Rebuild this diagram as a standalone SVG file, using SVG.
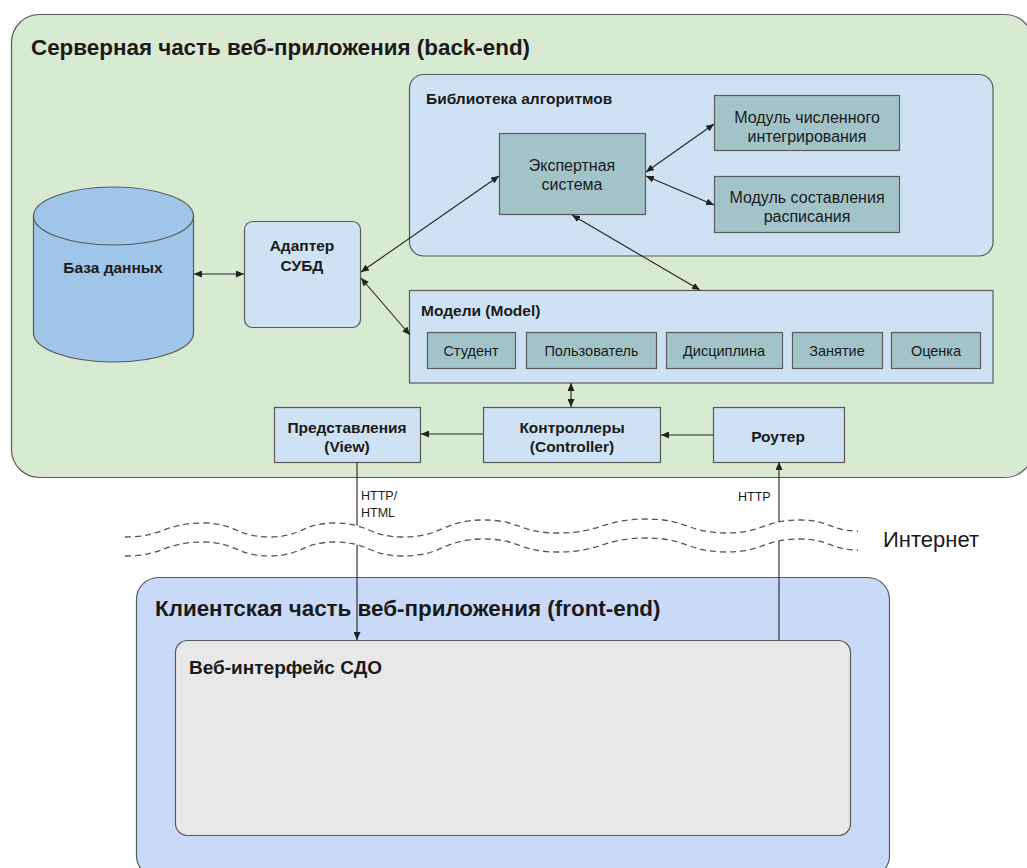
<svg xmlns="http://www.w3.org/2000/svg" width="1027" height="868" viewBox="0 0 1027 868">
  <style>
    text { font-family: "Liberation Sans", Arial, sans-serif; fill: #1a1a1a; }
    .title { font-size: 22.4px; font-weight: bold; }
    .lbl { font-size: 15.5px; font-weight: bold; }
    .lblc { font-size: 15.5px; font-weight: bold; text-anchor: middle; }
    .txt { font-size: 16px; text-anchor: middle; }
    .sm { font-size: 14.5px; text-anchor: middle; }
    .tiny { font-size: 12.5px; }
    .box { stroke: #595959; stroke-width: 1.2; }
    .blue { fill: #cfe2f3; }
    .cyan { fill: #a2c4c9; }
    .link { stroke: #222; stroke-width: 1.1; fill: none; }
    .wave { stroke: #555; stroke-width: 1.3; fill: none; stroke-dasharray: 6 4; }
  </style>
  <defs>
    <marker id="ah" viewBox="0 0 8 7" refX="8" refY="3.5" markerWidth="8" markerHeight="7" markerUnits="userSpaceOnUse" orient="auto-start-reverse">
      <path d="M0,0 L8,3.5 L0,7 z" fill="#222"/>
    </marker>
  </defs>

  <!-- server side container -->
  <g id="backend">
    <rect class="box" x="11.5" y="14.5" width="1021.5" height="463" rx="28" fill="#d9ead3"/>
    <text class="title" x="31" y="55">Серверная часть веб-приложения (back-end)</text>
  </g>

  <!-- algorithm library -->
  <g id="library">
    <rect class="box blue" x="409.5" y="74.5" width="583.5" height="181.5" rx="14"/>
    <text class="lbl" x="426" y="104">Библиотека алгоритмов</text>
  </g>
  <g id="expert">
    <rect class="box cyan" x="499.5" y="133.5" width="146" height="81"/>
    <text class="txt" x="572" y="171">Экспертная</text>
    <text class="txt" x="572" y="190">система</text>
  </g>
  <g id="integration">
    <rect class="box cyan" x="714.5" y="95.5" width="185" height="55"/>
    <text class="txt" x="807" y="123">Модуль численного</text>
    <text class="txt" x="807" y="142">интегрирования</text>
  </g>
  <g id="schedule">
    <rect class="box cyan" x="714.5" y="176.5" width="185" height="56"/>
    <text class="txt" x="807" y="203">Модуль составления</text>
    <text class="txt" x="807" y="222">расписания</text>
  </g>

  <!-- database -->
  <g id="database">
    <path class="box" d="M33.5,216 L33.5,333 A80,29 0 0 0 193.5,333 L193.5,216" fill="#9fc5e8"/>
    <ellipse class="box" cx="113.5" cy="216" rx="80" ry="29" fill="#9fc5e8"/>
    <text class="lblc" x="113" y="273">База данных</text>
  </g>

  <g id="adapter">
    <rect class="box blue" x="244.5" y="221.5" width="116" height="106" rx="8"/>
    <text class="lblc" x="302" y="251">Адаптер</text>
    <text class="lblc" x="302" y="271">СУБД</text>
  </g>

  <!-- models -->
  <g id="models">
    <rect class="box blue" x="409.5" y="290.5" width="583.5" height="92.5"/>
    <text class="lbl" x="421" y="316">Модели (Model)</text>
  </g>
  <g id="m-student">
    <rect class="box cyan" x="427.5" y="332.5" width="88" height="36"/>
    <text class="sm" x="471" y="356">Студент</text>
  </g>
  <g id="m-user">
    <rect class="box cyan" x="526.5" y="332.5" width="130" height="36"/>
    <text class="sm" x="591.5" y="356">Пользователь</text>
  </g>
  <g id="m-discipline">
    <rect class="box cyan" x="666.5" y="332.5" width="116" height="36"/>
    <text class="sm" x="724" y="356">Дисциплина</text>
  </g>
  <g id="m-lesson">
    <rect class="box cyan" x="792.5" y="332.5" width="90" height="36"/>
    <text class="sm" x="837" y="356">Занятие</text>
  </g>
  <g id="m-grade">
    <rect class="box cyan" x="891.5" y="332.5" width="89" height="36"/>
    <text class="sm" x="936" y="356">Оценка</text>
  </g>

  <g id="views">
    <rect class="box blue" x="274.5" y="407.5" width="146" height="55"/>
    <text class="lblc" x="347" y="433">Представления</text>
    <text class="lblc" x="347" y="452">(View)</text>
  </g>
  <g id="controllers">
    <rect class="box blue" x="483.5" y="407.5" width="177" height="55"/>
    <text class="lblc" x="572" y="433">Контроллеры</text>
    <text class="lblc" x="572" y="452">(Controller)</text>
  </g>
  <g id="router">
    <rect class="box blue" x="713.5" y="407.5" width="131" height="55"/>
    <text class="lblc" x="778" y="442">Роутер</text>
  </g>

  <!-- client side -->
  <g id="frontend">
    <rect class="box" x="136.5" y="577.5" width="753" height="300" rx="22" fill="#c9daf8"/>
    <text class="title" x="155" y="616">Клиентская часть веб-приложения (front-end)</text>
  </g>
  <g id="webui">
    <rect class="box" x="175.5" y="640.5" width="675" height="195" rx="12" fill="#e8e8e8"/>
    <text class="title" style="font-size:19px" x="189" y="674">Веб-интерфейс СДО</text>
  </g>

  <!-- connectors -->
  <g id="connectors">
    <path class="link" d="M194,274 L244,274" marker-start="url(#ah)" marker-end="url(#ah)"/>
    <path class="link" d="M361,272 L499,176" marker-start="url(#ah)" marker-end="url(#ah)"/>
    <path class="link" d="M361,278 L410,335" marker-start="url(#ah)" marker-end="url(#ah)"/>
    <path class="link" d="M646,172 L714,124" marker-start="url(#ah)" marker-end="url(#ah)"/>
    <path class="link" d="M646,176 L714,205" marker-start="url(#ah)" marker-end="url(#ah)"/>
    <path class="link" d="M572,215 L700,290" marker-start="url(#ah)" marker-end="url(#ah)"/>
    <path class="link" d="M571,383 L571,407" marker-start="url(#ah)" marker-end="url(#ah)"/>
    <path class="link" d="M483,434 L421,434" marker-end="url(#ah)"/>
    <path class="link" d="M713,435 L661,435" marker-end="url(#ah)"/>
    <path class="link" d="M357,462 L357,640" marker-end="url(#ah)"/>
    <path class="link" d="M779,640 L779,462" marker-end="url(#ah)"/>
    <text class="tiny" x="361" y="500">HTTP/</text>
    <text class="tiny" x="361" y="517">HTML</text>
    <text class="tiny" x="738" y="501">HTTP</text>
  </g>

  <!-- network break -->
  <g id="internet">
    <path fill="#ffffff" d="M125,537 C164,537 164,523 203,523 C236,523 236,537 270,537 C302,537 302,523 335,523 C369,523 369,537 403,537 C443,537 443,520 483,520 C520,520 520,533 557,533 C602,533 602,519 647,519 C687,519 687,533 727,533 C763,533 763,520 800,520 C830,520 830,531 858,531 L858,550 C830,550 830,539 800,539 C763,539 763,552 727,552 C687,552 687,538 647,538 C602,538 602,552 557,552 C520,552 520,539 483,539 C443,539 443,556 403,556 C369,556 369,542 335,542 C302,542 302,556 270,556 C236,556 236,542 203,542 C164,542 164,556 125,556 z"/>
    <path class="wave" d="M125,537 C164,537 164,523 203,523 C236,523 236,537 270,537 C302,537 302,523 335,523 C369,523 369,537 403,537 C443,537 443,520 483,520 C520,520 520,533 557,533 C602,533 602,519 647,519 C687,519 687,533 727,533 C763,533 763,520 800,520 C830,520 830,531 858,531"/>
    <path class="wave" d="M125,556 C164,556 164,542 203,542 C236,542 236,556 270,556 C302,556 302,542 335,542 C369,542 369,556 403,556 C443,556 443,539 483,539 C520,539 520,552 557,552 C602,552 602,538 647,538 C687,538 687,552 727,552 C763,552 763,539 800,539 C830,539 830,550 858,550"/>
    <text x="883" y="547" style="font-size:22px">Интернет</text>
  </g>
</svg>
